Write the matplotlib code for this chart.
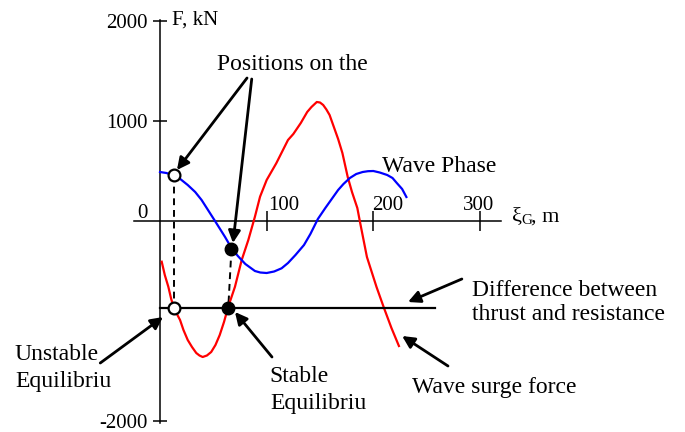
import matplotlib
matplotlib.use("Agg")
import matplotlib.pyplot as plt

plt.rcParams['font.family'] = ['Liberation Serif', 'DejaVu Serif']

# wave surge force (red)
red_x = [1.6, 4.5, 7.8, 10.5, 13.4, 18.8, 22, 26, 30, 34, 37, 40, 44, 48, 52, 56, 60, 64,
         70.3, 76.6, 82.8, 89, 93.8, 100, 109, 120, 125, 132, 138, 142, 147, 150, 153, 156,
         159, 164, 167, 171, 176, 180, 185, 187.5, 194, 203, 210, 217, 224]
red_F = [-407, -540, -657, -780, -880, -990, -1090, -1190, -1260, -1320, -1345, -1360, -1345,
         -1310, -1240, -1140, -1010, -857, -657, -390, -190, 43, 243, 410, 577, 810, 870, 980,
         1090, 1140, 1190, 1185, 1160, 1115, 1060, 910, 820, 680, 440, 290, 130, -10, -360,
         -660, -870, -1070, -1250]

# wave phase (blue)
blue_x = [0, 6, 12, 19, 26, 33, 39, 45, 52, 56, 61, 67, 73, 80, 89, 94, 100, 107, 114, 120,
          127, 135, 141, 148, 155, 161, 167, 172, 178, 184, 190, 195, 200, 206, 213, 218, 222,
          227, 231]
blue_F = [490, 480, 460, 420, 360, 290, 210, 110, -7, -75, -160, -270, -350, -430, -500, -515,
          -520, -505, -473, -420, -340, -240, -130, 20, 130, 220, 310, 370, 430, 470, 490, 498,
          500, 485, 460, 430, 380, 320, 240]

# difference between thrust and resistance
diff_x = [0, 258]
diff_F = [-870, -870]

# equilibrium positions: on the phase curve and on the difference line
unstable_top = (13, 460)
unstable_bot = (13, -870)
stable_top = (67, -280)
stable_bot = (64, -870)

yticks = [-2000, 1000, 2000]
xticks = [100, 200, 300]

fig = plt.figure(figsize=(6.85, 4.32), dpi=100)
ax = fig.add_axes([0, 0, 1, 1])
ax.set_xlim(-150, 492.2)
ax.set_ylim(-2110, 2210)
ax.patch.set_alpha(0)

for s in ['top', 'right']:
    ax.spines[s].set_visible(False)
ax.spines['left'].set_position(('data', 0))
ax.spines['bottom'].set_position(('data', 0))
ax.spines['left'].set_bounds(-2020, 2010)
ax.spines['bottom'].set_bounds(-24, 320)
ax.spines['left'].set_linewidth(1.1)
ax.spines['bottom'].set_linewidth(1.1)

ax.set_yticks(yticks)
ax.set_yticklabels([str(v) for v in yticks], fontsize=15)
ax.tick_params(axis='y', direction='inout', length=10, width=1.1, pad=4)
ax.set_xticks(xticks)
ax.set_xticklabels([])
ax.tick_params(axis='x', direction='inout', length=15, width=1.1)

ax.text(-12, 80, "0", fontsize=15, ha='right', va='center')
for xv, xl in zip(xticks, [101, 199, 284]):
    ax.text(xl, 150, str(xv), fontsize=15, ha='left', va='center')
ax.text(11, 2010, "F, kN", fontsize=15, ha='left', va='center')
ax.text(330, 40, "ξ", fontsize=16, ha='left', va='center')
ax.text(339, 10, "G", fontsize=11, ha='left', va='center')
ax.text(348, 40, ", m", fontsize=16, ha='left', va='center')

ax.plot(red_x, red_F, color='red', lw=1.6, zorder=3)
ax.plot(blue_x, blue_F, color='blue', lw=1.6, zorder=3)
ax.plot(diff_x, diff_F, color='black', lw=1.6, zorder=3)

ax.plot([unstable_top[0], unstable_bot[0]], [unstable_top[1], unstable_bot[1]],
        color='black', lw=1.4, ls=(0, (3.5, 2.5)), zorder=2)
ax.plot([stable_top[0], stable_bot[0]], [stable_top[1], stable_bot[1]],
        color='black', lw=1.4, ls=(0, (3.5, 2.5)), zorder=2)

for p in [unstable_top, unstable_bot]:
    ax.plot(p[0], p[1], 'o', ms=8.5, mfc='white', mec='black', mew=1.6, zorder=5)
for p in [stable_top, stable_bot]:
    ax.plot(p[0], p[1], 'o', ms=9, mfc='black', mec='black', zorder=5)

fs = 17
ax.text(53.4, 1560, "Positions on the", fontsize=fs, ha='left', va='center')
ax.text(208, 540, "Wave Phase", fontsize=fs, ha='left', va='center')
ax.text(292.5, -690, "Difference between", fontsize=fs, ha='left', va='center')
ax.text(292.5, -940, "thrust and resistance", fontsize=fs, ha='left', va='center')
ax.text(-136, -1340, "Unstable", fontsize=fs, ha='left', va='center')
ax.text(-136, -1610, "Equilibriu", fontsize=fs, ha='left', va='center')
ax.text(103, -1560, "Stable", fontsize=fs, ha='left', va='center')
ax.text(103, -1820, "Equilibriu", fontsize=fs, ha='left', va='center')
ax.text(236, -1670, "Wave surge force", fontsize=fs, ha='left', va='center')

arrows = [
    ((81.6, 1430), (15.9, 510)),
    ((86, 1420), (68.4, -220)),
    ((-56, -1420), (2.8, -960)),
    ((105, -1360), (70.3, -910)),
    ((283, -580), (232.5, -810)),
    ((270, -1450), (227, -1150)),
]
for start, end in arrows:
    ax.annotate("", xy=end, xytext=start,
                arrowprops=dict(arrowstyle='-|>', color='black', lw=2,
                                mutation_scale=18, shrinkA=0, shrinkB=0),
                zorder=6)

fig.savefig("out.png", dpi=100)
